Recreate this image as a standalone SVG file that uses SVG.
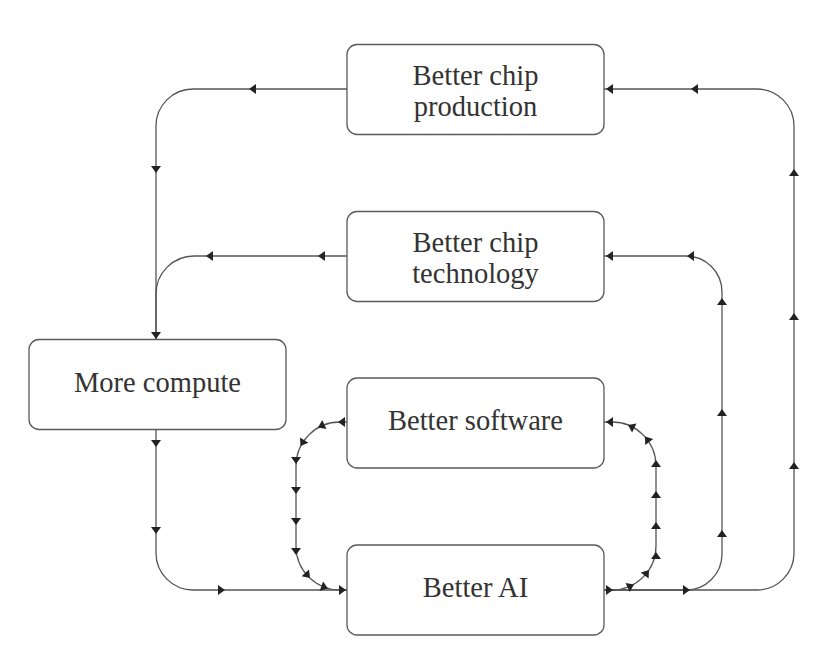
<svg xmlns="http://www.w3.org/2000/svg" xmlns:xlink="http://www.w3.org/1999/xlink" width="828" height="668" viewBox="0 0 828 668">
<style>
.box{fill:#fff;stroke:#5a5a5a;stroke-width:1.3}
.lbl{font-family:"Liberation Serif","DejaVu Serif",serif;font-size:28.5px;fill:#333;text-anchor:middle}
.edge{fill:none;stroke:#555;stroke-width:1.3}
.ah{fill:#222}
</style>
<defs>
<path id="ah" d="M0,0 L-7,-5 L-7,5 Z"/>
</defs>
<rect width="828" height="668" fill="#fff"/>
<g id="connectors">
  <path class="edge" d="M347,89 H193 A37,37 0 0 0 156,126 V339"/>
  <path class="edge" d="M347,256 H194 A38,38 0 0 0 156,294 V339"/>
  <path class="edge" d="M156,430 V553 A37,37 0 0 0 193,590 H347"/>
  <path class="edge" d="M347,422 H340 A44,44 0 0 0 296,466 V546 A44,44 0 0 0 340,590 H347"/>
  <path class="edge" d="M604,590 H612 A44,44 0 0 0 656,546 V466 A44,44 0 0 0 612,422 H604"/>
  <path class="edge" d="M604,590 H686 A36,36 0 0 0 722,554 V292 A36,36 0 0 0 686,256 H604"/>
  <path class="edge" d="M604,590 H757 A37,37 0 0 0 794,553 V126 A37,37 0 0 0 757,89 H604"/>
  <g class="ah">
    <use xlink:href="#ah" transform="translate(249,89) rotate(180)"/>
    <use xlink:href="#ah" transform="translate(156,173) rotate(90)"/>
    <use xlink:href="#ah" transform="translate(318,256) rotate(180)"/>
    <use xlink:href="#ah" transform="translate(206,256) rotate(180)"/>
    <use xlink:href="#ah" transform="translate(156,339) rotate(90)"/>
    <use xlink:href="#ah" transform="translate(156,447) rotate(90)"/>
    <use xlink:href="#ah" transform="translate(156,534) rotate(90)"/>
    <use xlink:href="#ah" transform="translate(225,590)"/>
    <use xlink:href="#ah" transform="translate(346,590)"/>
    <use xlink:href="#ah" transform="translate(338,422) rotate(180)"/>
    <use xlink:href="#ah" transform="translate(318,427.5) rotate(155)"/>
    <use xlink:href="#ah" transform="translate(300.5,446) rotate(122)"/>
    <use xlink:href="#ah" transform="translate(296,464) rotate(90)"/>
    <use xlink:href="#ah" transform="translate(296,494) rotate(90)"/>
    <use xlink:href="#ah" transform="translate(296,525) rotate(90)"/>
    <use xlink:href="#ah" transform="translate(296,555) rotate(90)"/>
    <use xlink:href="#ah" transform="translate(310,578) rotate(48)"/>
    <use xlink:href="#ah" transform="translate(328,588.5) rotate(20)"/>
    <use xlink:href="#ah" transform="translate(613,590)"/>
    <use xlink:href="#ah" transform="translate(634,584.5) rotate(-25)"/>
    <use xlink:href="#ah" transform="translate(649,570) rotate(-52)"/>
    <use xlink:href="#ah" transform="translate(656,552) rotate(-90)"/>
    <use xlink:href="#ah" transform="translate(656,522) rotate(-90)"/>
    <use xlink:href="#ah" transform="translate(656,491) rotate(-90)"/>
    <use xlink:href="#ah" transform="translate(656,460) rotate(-90)"/>
    <use xlink:href="#ah" transform="translate(645,436.5) rotate(-127)"/>
    <use xlink:href="#ah" transform="translate(628,425) rotate(-154)"/>
    <use xlink:href="#ah" transform="translate(606,422) rotate(180)"/>
    <use xlink:href="#ah" transform="translate(690,590)"/>
    <use xlink:href="#ah" transform="translate(722,530) rotate(-90)"/>
    <use xlink:href="#ah" transform="translate(722,409) rotate(-90)"/>
    <use xlink:href="#ah" transform="translate(722,298) rotate(-90)"/>
    <use xlink:href="#ah" transform="translate(687,256) rotate(180)"/>
    <use xlink:href="#ah" transform="translate(606,256) rotate(180)"/>
    <use xlink:href="#ah" transform="translate(794,462) rotate(-90)"/>
    <use xlink:href="#ah" transform="translate(794,313) rotate(-90)"/>
    <use xlink:href="#ah" transform="translate(794,169) rotate(-90)"/>
    <use xlink:href="#ah" transform="translate(691,89) rotate(180)"/>
    <use xlink:href="#ah" transform="translate(606,89) rotate(180)"/>
  </g>
</g>
<g id="chip-production">
  <rect class="box" x="347" y="44.5" width="257" height="90" rx="10"/>
  <text class="lbl" x="475.5" y="85">Better chip</text>
  <text class="lbl" x="475.5" y="116">production</text>
</g>
<g id="chip-technology">
  <rect class="box" x="347" y="211.5" width="257" height="90" rx="10"/>
  <text class="lbl" x="475.5" y="252">Better chip</text>
  <text class="lbl" x="475.5" y="283">technology</text>
</g>
<g id="more-compute">
  <rect class="box" x="29" y="339.5" width="257" height="90" rx="10"/>
  <text class="lbl" x="157.5" y="392">More compute</text>
</g>
<g id="better-software">
  <rect class="box" x="347" y="378" width="257" height="90" rx="10"/>
  <text class="lbl" x="475.5" y="430">Better software</text>
</g>
<g id="better-ai">
  <rect class="box" x="347" y="545" width="257" height="90" rx="10"/>
  <text class="lbl" x="475.5" y="597">Better AI</text>
</g>
</svg>
